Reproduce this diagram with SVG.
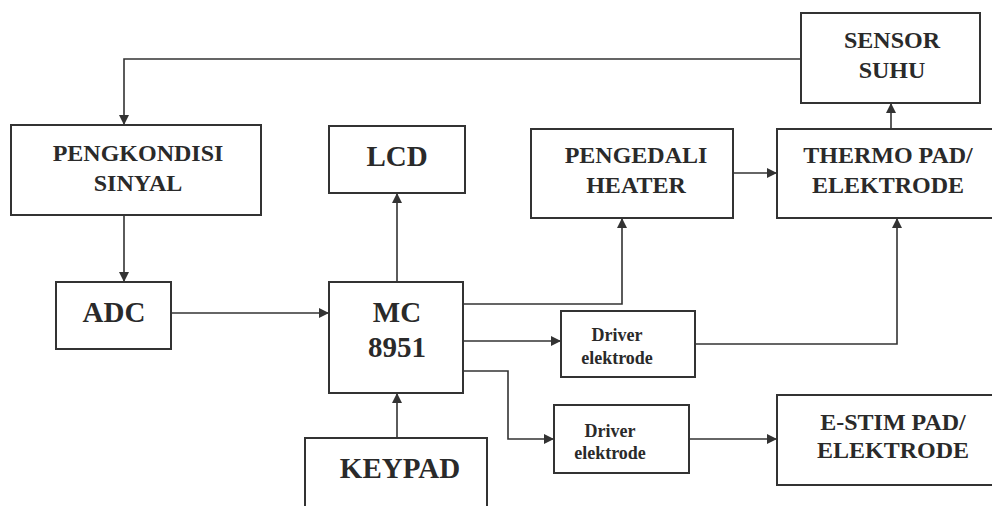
<svg xmlns="http://www.w3.org/2000/svg" width="992" height="506" viewBox="0 0 992 506">
<defs>
<marker id="ah" viewBox="0 0 10 10" refX="10" refY="5" markerWidth="10" markerHeight="10" markerUnits="userSpaceOnUse" orient="auto">
<path d="M0,0 L10,5 L0,10 z" fill="#333"/>
</marker>
<style>
.box{fill:#fff;stroke:#333;stroke-width:2}
.ln{fill:none;stroke:#333;stroke-width:1.6;marker-end:url(#ah)}
.t{font-family:'Liberation Serif','Times New Roman','DejaVu Serif',serif;font-weight:bold;fill:#2a2a2a;text-anchor:middle}
.m{font-size:24px}
.b{font-size:29px}
.s{font-size:18px}
</style>
</defs>
<rect width="992" height="506" fill="#fff"/>
<g id="connectors">
<path class="ln" d="M801,59 H124 V125"/>
<path class="ln" d="M124,215 V282"/>
<path class="ln" d="M171,313 H329"/>
<path class="ln" d="M397,282 V193"/>
<path class="ln" d="M397,438 V393"/>
<path class="ln" d="M463,304 H622 V218"/>
<path class="ln" d="M463,341 H561"/>
<path class="ln" d="M463,371 H508 V439 H554"/>
<path class="ln" d="M695,344 H897 V218"/>
<path class="ln" d="M733,173 H777"/>
<path class="ln" d="M891,129 V103"/>
<path class="ln" d="M689,439 H777"/>
</g>
<g id="sensor">
<rect class="box" x="801" y="13" width="179" height="90"/>
<text class="t m" x="892" y="48" font-family="Liberation Serif">SENSOR</text>
<text class="t m" x="892" y="78" font-family="Liberation Serif">SUHU</text>
</g>
<g id="pengkondisi">
<rect class="box" x="11" y="125" width="250" height="90"/>
<text class="t m" x="138" y="161">PENGKONDISI</text>
<text class="t m" x="138" y="191">SINYAL</text>
</g>
<g id="lcd">
<rect class="box" x="329" y="126" width="136" height="67"/>
<text class="t b" x="397" y="166">LCD</text>
</g>
<g id="pengedali">
<rect class="box" x="531" y="129" width="202" height="89"/>
<text class="t m" x="636" y="163">PENGEDALI</text>
<text class="t m" x="636" y="193">HEATER</text>
</g>
<g id="thermo">
<rect class="box" x="777" y="129" width="220" height="89"/>
<text class="t m" x="888" y="163">THERMO PAD/</text>
<text class="t m" x="888" y="193">ELEKTRODE</text>
</g>
<g id="adc">
<rect class="box" x="56" y="282" width="115" height="67"/>
<text class="t b" x="114" y="322">ADC</text>
</g>
<g id="mc">
<rect class="box" x="329" y="282" width="134" height="111"/>
<text class="t b" x="397" y="322">MC</text>
<text class="t b" x="397" y="357">8951</text>
</g>
<g id="keypad">
<rect class="box" x="305" y="438" width="182" height="72"/>
<text class="t b" x="400" y="478">KEYPAD</text>
</g>
<g id="driver1">
<rect class="box" x="561" y="311" width="134" height="66"/>
<text class="t s" x="617" y="341">Driver</text>
<text class="t s" x="617" y="364">elektrode</text>
</g>
<g id="driver2">
<rect class="box" x="554" y="405" width="135" height="68"/>
<text class="t s" x="610" y="437">Driver</text>
<text class="t s" x="610" y="459">elektrode</text>
</g>
<g id="estim">
<rect class="box" x="777" y="395" width="220" height="90"/>
<text class="t m" x="893" y="430">E-STIM PAD/</text>
<text class="t m" x="893" y="458">ELEKTRODE</text>
</g>
</svg>
